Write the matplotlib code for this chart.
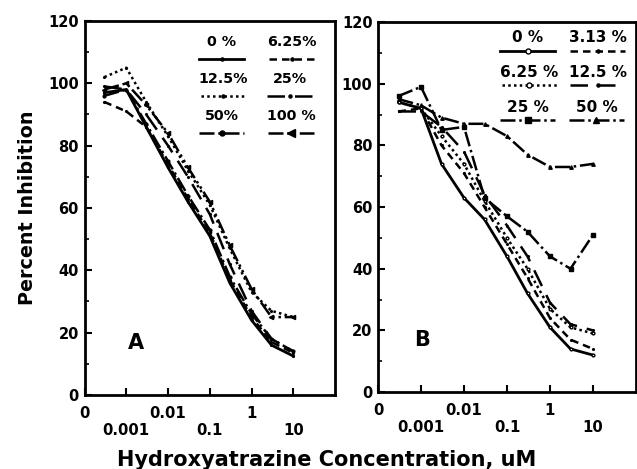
import matplotlib
matplotlib.use("Agg")
import matplotlib.pyplot as plt
from matplotlib.offsetbox import VPacker

plt.rcParams['font.family'] = ['DejaVu Sans']
plt.rcParams['font.weight'] = 'bold'

conc = [0.0003, 0.001, 0.003, 0.01, 0.03, 0.1, 0.3, 1, 3, 10]
xticks = [0.0001, 0.001, 0.01, 0.1, 1, 10]
xticklabels = ["0", "\n0.001", "0.01", "\n0.1", "1", "\n10"]
yticks = [0, 20, 40, 60, 80, 100, 120]

# Panel A
labels_a = ["0 %", "6.25%", "12.5%", "25%", "50%", "100 %"]
a_0 = [97, 98, 86, 73, 62, 51, 36, 24, 16, 12.5]
a_6 = [94, 91, 86, 74, 63, 52, 37, 25, 17, 13.5]
a_12 = [102, 105, 94, 83, 72, 61, 47, 33, 27, 25]
a_25 = [99, 98, 90, 80, 70, 58, 42, 27, 18, 14]
a_50 = [96, 98, 87, 75, 64, 53, 38, 26, 18, 14]
a_100 = [98, 100, 93, 84, 73, 62, 48, 34, 25, 25]

# Panel B
labels_b = ["0 %", "3.13 %", "6.25 %", "12.5 %", "25 %", "50 %"]
b_0 = [94, 92, 74, 63, 56, 44, 32, 21, 14, 12]
b_3 = [91, 92, 80, 71, 60, 48, 37, 24, 17, 14]
b_6 = [94, 92, 83, 74, 62, 50, 40, 27, 21, 19]
b_12 = [91, 91, 86, 78, 64, 54, 44, 29, 22, 20]
b_25 = [96, 99, 85, 86, 63, 57, 52, 44, 40, 51]
b_50 = [95, 93, 89, 87, 87, 83, 77, 73, 73, 74]

styles = [
    dict(ls='-', lw=2.0, marker='.', ms=2.5),
    dict(ls=(0, (3, 2)), lw=1.8, marker='.', ms=2.5),
    dict(ls=(0, (1, 1.3)), lw=1.8, marker='.', ms=2.5),
    dict(ls=(0, (7, 4)), lw=1.8, marker='.', ms=2.5),
    dict(ls=(0, (6, 1.5, 1, 1.5)), lw=1.8, marker='.', ms=4),
    dict(ls=(0, (6, 1.5, 1, 1.5, 1, 1.5)), lw=1.8, marker='<', ms=3),
]
styles_b = [
    dict(ls='-', lw=2.0, marker='o', ms=2, mfc='white'),
    dict(ls=(0, (3, 2)), lw=1.8, marker='.', ms=2.5),
    dict(ls=(0, (1, 1.3)), lw=1.8, marker='o', ms=2, mfc='white'),
    dict(ls=(0, (7, 4)), lw=1.8, marker='.', ms=2.5),
    dict(ls=(0, (6, 1.5, 1, 1.5)), lw=1.8, marker='s', ms=2.5),
    dict(ls=(0, (6, 1.5, 1, 1.5)), lw=1.8, marker='^', ms=2.5),
]

fig = plt.figure(figsize=(6.37, 4.69), dpi=100)
axA = fig.add_axes([0.1327, 0.1578, 0.3933, 0.7975])
axB = fig.add_axes([0.5934, 0.164, 0.4050, 0.789])


def style_axis(ax):
    ax.set_xscale('log')
    ax.set_xlim(0.0001, 100)
    ax.set_ylim(0, 120)
    ax.set_xticks(xticks)
    ax.set_xticklabels(xticklabels, fontsize=10.7, fontweight='bold', linespacing=1.15)
    ax.xaxis.set_minor_locator(matplotlib.ticker.NullLocator())
    ax.set_yticks(yticks)
    ax.set_yticks(list(range(10, 120, 20)), minor=True)
    ax.set_yticklabels([str(v) for v in yticks], fontsize=10.5, fontweight='bold')
    ax.tick_params(axis='both', which='major', direction='in', length=5, width=1.5)
    ax.tick_params(axis='x', which='major', pad=8)
    ax.tick_params(axis='y', which='minor', direction='in', length=3, width=1.2)
    ax.tick_params(axis='y', which='major', pad=4)
    for s in ax.spines.values():
        s.set_linewidth(2)


def vertical_legend(ax, handles, labels, anchor, size, hl, cs, ls, sep):
    order = [0, 2, 4, 1, 3, 5]
    leg = ax.legend([handles[i] for i in order], [labels[i] for i in order],
                    ncol=2, frameon=False, loc='upper right',
                    bbox_to_anchor=anchor, handlelength=hl, columnspacing=cs,
                    prop=dict(size=size, weight='bold'), labelspacing=ls,
                    handletextpad=0.0, borderaxespad=0.0, borderpad=0.0,
                    markerscale=1.8)
    for col in leg._legend_handle_box.get_children():
        new_children = []
        for item in col.get_children():
            kids = item.get_children()
            new_children.append(VPacker(children=[kids[1], kids[0]], align='center', pad=0, sep=sep))
        col._children = new_children
    return leg


series_a = [a_0, a_6, a_12, a_25, a_50, a_100]
hA = []
for vals, st in zip(series_a, styles):
    ln, = axA.plot(conc, vals, color='black', **st)
    hA.append(ln)
style_axis(axA)
vertical_legend(axA, hA, labels_a, (0.925, 0.962), 10.3, 3.2, 1.3, 0.55, 3.5)
axA.text(0.205, 0.14, "A", transform=axA.transAxes, fontsize=15, fontweight='bold',
         ha='center', va='center')
axA.set_ylabel("Percent Inhibition", fontsize=13.8, fontweight='bold', labelpad=8)

series_b = [b_0, b_3, b_6, b_12, b_25, b_50]
hB = []
for vals, st in zip(series_b, styles_b):
    ln, = axB.plot(conc, vals, color='black', **st)
    hB.append(ln)
style_axis(axB)
vertical_legend(axB, hB, labels_b, (0.965, 0.978), 11, 3.6, 0.7, 0.6, 0)
axB.text(0.17, 0.14, "B", transform=axB.transAxes, fontsize=15, fontweight='bold',
         ha='center', va='center')

fig.text(0.513, 0.02, "Hydroxyatrazine Concentration, uM", fontsize=15,
         fontweight='bold', ha='center', va='center')

fig.savefig("out.png", dpi=100)
